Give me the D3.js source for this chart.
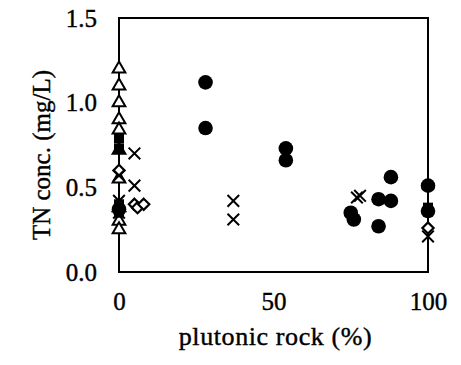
<!DOCTYPE html>
<html>
<head>
<meta charset="utf-8">
<script src="https://cdn.jsdelivr.net/npm/d3@7"></script>
<style>
  html, body { margin: 0; padding: 0; background: #fff; }
  svg { display: block; }
  svg text { font-family: "Liberation Serif", "DejaVu Serif", serif; fill: #000; }
</style>
</head>
<body>
<svg id="chart" width="461" height="365"></svg>
<script>
// ---- data ----
const xTicks = [0, 50, 100];
const yTicks = [0.0, 0.5, 1.0, 1.5];
const xTitle = "plutonic rock (%)";
const yTitle = "TN conc. (mg/L)";

// open triangles
const triX = [0, 0, 0, 0, 0, 0, 0, 0, 0, 0];
const triY = [1.20, 1.10, 1.00, 0.90, 0.84, 0.72, 0.55, 0.38, 0.30, 0.25];
// filled squares
const sqX = [0, 0, 0, 0, 100];
const sqY = [0.79, 0.73, 0.40, 0.35, 0.38];
// crosses
const crX = [0, 0, 0, 5, 5, 37, 37, 77, 78, 100];
const crY = [0.57, 0.42, 0.35, 0.70, 0.51, 0.42, 0.31, 0.44, 0.45, 0.21];
// open diamonds
const diX = [0, 0, 5, 6, 8, 100];
const diY = [0.60, 0.38, 0.40, 0.38, 0.40, 0.26];
// filled circles
const ciX = [0, 28, 28, 54, 54, 75, 76, 84, 84, 88, 88, 100, 100];
const ciY = [0.37, 1.12, 0.85, 0.73, 0.66, 0.35, 0.31, 0.43, 0.27, 0.56, 0.42, 0.51, 0.36];

// ---- layout ----
const svg = d3.select("#chart");
const L = 119, R = 428, T = 18, B = 272;
const x = d3.scaleLinear().domain([0, 100]).range([L, R]);
const y = d3.scaleLinear().domain([0, 1.5]).range([B, T]);
const font = '"Liberation Serif", "DejaVu Serif", serif';

// frame
svg.append("rect").attr("x", L).attr("y", T).attr("width", R - L).attr("height", B - T)
  .attr("fill", "none").attr("stroke", "#000").attr("stroke-width", 2);

// axes (labels only)
const yAxis = d3.axisLeft(y).tickValues(yTicks).tickFormat(d3.format(".1f")).tickSize(0).tickPadding(22);
const gy = svg.append("g").attr("transform", `translate(${L},0)`).call(yAxis);
gy.attr("font-family", null).attr("font-size", null);
gy.select(".domain").remove();
gy.selectAll("text").style("font-family", font).style("font-size", "25px")
  .attr("fill", "#000").attr("stroke", "#000").attr("stroke-width", 0.4);

const xAxis = d3.axisBottom(x).tickValues(xTicks).tickFormat(d3.format("d")).tickSize(0).tickPadding(20);
const gx = svg.append("g").attr("transform", `translate(0,${B})`).call(xAxis);
gx.attr("font-family", null).attr("font-size", null);
gx.select(".domain").remove();
gx.selectAll("text").style("font-family", font).style("font-size", "25px")
  .attr("fill", "#000").attr("stroke", "#000").attr("stroke-width", 0.4);

// titles
svg.append("text").attr("x", (L + R) / 2 + 2).attr("y", 345).attr("text-anchor", "middle")
  .style("font-family", font).style("font-size", "26px").style("letter-spacing", "0.6px")
  .attr("stroke", "#000").attr("stroke-width", 0.4).text(xTitle);
svg.append("text").attr("transform", `translate(50,${(T + B) / 2 + 10}) rotate(-90)`)
  .attr("text-anchor", "middle").style("font-family", font).style("font-size", "25px")
  .attr("stroke", "#000").attr("stroke-width", 0.4).text(yTitle);

// markers
const g = svg.append("g");
function pts(xs, ys) { return xs.map((d, i) => [d, ys[i]]); }

g.selectAll(".tri").data(pts(triX, triY)).join("path")
  .attr("transform", d => `translate(${x(d[0])},${y(d[1])})`)
  .attr("d", d3.symbol(d3.symbolTriangle, 70)())
  .attr("fill", "#fff").attr("stroke", "#000").attr("stroke-width", 2);

g.selectAll(".sq").data(pts(sqX, sqY)).join("rect")
  .attr("x", d => x(d[0]) - 5).attr("y", d => y(d[1]) - 5)
  .attr("width", 10).attr("height", 10).attr("fill", "#000");

g.selectAll(".di").data(pts(diX, diY)).join("path")
  .attr("transform", d => `translate(${x(d[0])},${y(d[1])})`)
  .attr("d", d3.symbol(d3.symbolDiamond2, 80)())
  .attr("fill", "#fff").attr("stroke", "#000").attr("stroke-width", 2.2);

g.selectAll(".cr").data(pts(crX, crY)).join("path")
  .attr("transform", d => `translate(${x(d[0])},${y(d[1])})`)
  .attr("d", d3.symbol(d3.symbolTimes, 90)())
  .attr("fill", "none").attr("stroke", "#000").attr("stroke-width", 2);

g.selectAll(".ci").data(pts(ciX, ciY)).join("circle")
  .attr("cx", d => x(d[0])).attr("cy", d => y(d[1])).attr("r", 7.3).attr("fill", "#000");
</script>
</body>
</html>
